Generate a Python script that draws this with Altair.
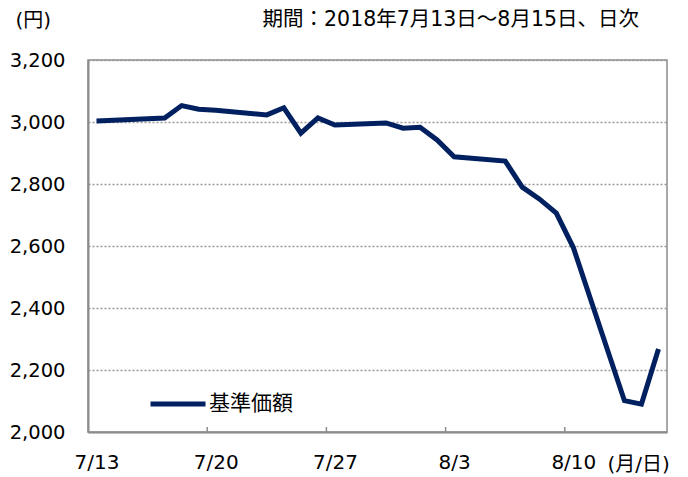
import altair as alt
import pandas as pd

dates = ["2018-07-13", "2018-07-17", "2018-07-18", "2018-07-19", "2018-07-20",
         "2018-07-23", "2018-07-24", "2018-07-25", "2018-07-26", "2018-07-27",
         "2018-07-30", "2018-07-31", "2018-08-01", "2018-08-02", "2018-08-03",
         "2018-08-06", "2018-08-07", "2018-08-08", "2018-08-09", "2018-08-10",
         "2018-08-13", "2018-08-14", "2018-08-15"]
values = [3003, 3013, 3053, 3041, 3038,
          3023, 3046, 2964, 3013, 2990,
          2997, 2980, 2983, 2942, 2888,
          2874, 2790, 2752, 2706, 2595,
          2101, 2090, 2268]
series_name = "基準価額"
tick_bounds = ["2018-07-19T12:00:00Z", "2018-07-26T12:00:00Z",
               "2018-08-02T12:00:00Z", "2018-08-09T12:00:00Z"]
label_days = [(7, 13), (7, 20), (7, 27), (8, 3), (8, 10)]
y_ticks = [2000, 2200, 2400, 2600, 2800, 3000, 3200]
title_text = "期間：2018年7月13日～8月15日、日次"

FONT = "Verdana, DejaVu Sans, Noto Sans CJK JP"
NAVY = "#002060"
GRAY = "#8c8c8c"
FS = 20

df = pd.DataFrame({"date": dates, "value": values, "series": series_name})
tb = pd.DataFrame({"date": tick_bounds})

xscale = alt.Scale(
    type="utc",
    domain=[alt.DateTime(year=2018, month=7, date=12, hours=12, utc=True),
            alt.DateTime(year=2018, month=8, date=15, hours=12, utc=True)],
)
yscale = alt.Scale(domain=[2000, 3200], nice=False, zero=False)

line = alt.Chart(df).mark_line(strokeWidth=5, strokeJoin="miter").encode(
    x=alt.X("date:T", scale=xscale,
            axis=alt.Axis(
                values=[alt.DateTime(year=2018, month=m, date=d, utc=True) for m, d in label_days],
                labelExpr="utcFormat(datum.value, '%-m/%-d')",
                ticks=False, grid=False, domainColor=GRAY, domainWidth=2,
                labelFont=FONT, labelFontSize=FS, labelColor="#000", labelPadding=20,
                title="(月/日)", titleFont=FONT, titleFontSize=FS, titleFontWeight="normal",
                titleColor="#000", titleAngle=0, titleAlign="left", titleBaseline="middle",
                titleX=519, titleY=32)),
    y=alt.Y("value:Q", scale=yscale,
            axis=alt.Axis(
                values=y_ticks, format=",d", ticks=False,
                grid=True, gridColor="#999", gridDash=[2, 2], gridWidth=1.5,
                domainColor=GRAY, domainWidth=2,
                labelFont=FONT, labelFontSize=19.5, labelColor="#000", labelPadding=23,
                title="(円)", titleFont=FONT, titleFontSize=FS, titleFontWeight="normal",
                titleColor="#000", titleAngle=0, titleAlign="left", titleBaseline="middle",
                titleX=-73, titleY=-40)),
    color=alt.Color("series:N", scale=alt.Scale(range=[NAVY]),
                    legend=alt.Legend(title=None, orient="none", legendX=60, legendY=314,
                                      symbolType="stroke", symbolSize=3025,
                                      symbolStrokeWidth=5, labelFont=FONT,
                                      labelFontSize=21, labelColor="#000", labelOffset=1)),
)

ticks = alt.Chart(tb).mark_rule(color=GRAY, strokeWidth=1.5).encode(
    x=alt.X("date:T", scale=xscale),
    y=alt.datum(2000),
    y2=alt.datum(2016),
)

title = alt.Chart(pd.DataFrame({"t": [title_text]})).mark_text(
    font=FONT, fontSize=20.5, align="right", baseline="middle", color="#000"
).encode(text="t:N", x=alt.value(551), y=alt.value(-40))

chart = alt.layer(line, ticks, title).properties(
    width=579, height=372,
    autosize=alt.AutoSizeParams(type="none"),
    padding={"left": 80, "top": 52, "right": 13, "bottom": 44},
).configure_view(stroke=GRAY, strokeWidth=1.5)

chart.save("out.html", embed_options={"renderer": "svg", "actions": False})
